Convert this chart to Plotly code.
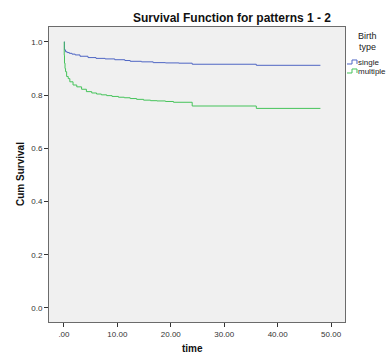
import plotly.graph_objects as go

# ---- data ----
single_t = [0, 0.1, 0.3, 0.6, 1.0, 1.5, 2.1, 3.0, 4.5, 6.0, 7.7, 9.5, 11.4, 12.4, 14.5, 16.7, 19.0, 21.5, 24.0, 36.0, 48.0]
single_s = [1.0, 0.970, 0.963, 0.960, 0.957, 0.954, 0.951, 0.946, 0.941, 0.938, 0.936, 0.933, 0.930, 0.927, 0.925, 0.922, 0.921, 0.920, 0.916, 0.912, 0.912]

multiple_t = [0, 0.05, 0.1, 0.2, 0.3, 0.5, 0.8, 1.1, 1.7, 2.4, 3.3, 4.2, 5.2, 6.1, 7.0, 8.0, 9.0, 10.2, 11.3, 12.4, 13.6, 14.9, 16.2, 17.4, 19.0, 20.5, 24.0, 36.0, 48.0]
multiple_s = [1.0, 0.95, 0.92, 0.90, 0.888, 0.87, 0.862, 0.85, 0.838, 0.831, 0.822, 0.813, 0.808, 0.804, 0.801, 0.798, 0.795, 0.792, 0.790, 0.787, 0.784, 0.781, 0.779, 0.778, 0.776, 0.773, 0.759, 0.750, 0.750]

x_tickvals = [0, 10, 20, 30, 40, 50]
x_ticktext = [".00", "10.00", "20.00", "30.00", "40.00", "50.00"]
y_tickvals = [0.0, 0.2, 0.4, 0.6, 0.8, 1.0]
y_ticktext = ["0.0", "0.2", "0.4", "0.6", "0.8", "1.0"]

series_names = ["single", "multiple"]
colors = ["#4F66C4", "#45C35A"]

W, H = 387, 353
L, R, T, B = 49, 345, 27, 322
def px(x):
    return (x - L) / (R - L)
def py(y):
    return (B - y) / (B - T)

FONT = "Liberation Sans, Arial, sans-serif"

fig = go.Figure()
fig.add_trace(go.Scatter(x=single_t, y=single_s, mode="lines", line_shape="hv",
                         line=dict(color=colors[0], width=1), name=series_names[0], showlegend=False))
fig.add_trace(go.Scatter(x=multiple_t, y=multiple_s, mode="lines", line_shape="hv",
                         line=dict(color=colors[1], width=1), name=series_names[1], showlegend=False))

fig.update_layout(
    width=W, height=H,
    margin=dict(l=L, r=W - R, t=T, b=H - B),
    paper_bgcolor="white",
    plot_bgcolor="#F0F0F0",
    font=dict(family=FONT, size=8, color="#333333"),
    xaxis=dict(range=[-2.8, 52.6], tickvals=x_tickvals, ticktext=x_ticktext,
               showgrid=False, zeroline=False, showline=True, mirror=True,
               linecolor="#6b6b6b", linewidth=1, ticks="outside", ticklen=4,
               tickcolor="#333333", tickfont=dict(size=8, color="#333333")),
    yaxis=dict(range=[-0.053, 1.056], tickvals=y_tickvals, ticktext=y_ticktext,
               showgrid=False, zeroline=False, showline=True, mirror=True,
               linecolor="#6b6b6b", linewidth=1, ticks="outside", ticklen=4,
               tickcolor="#333333", tickfont=dict(size=8, color="#333333")),
)

annotations = [
    dict(text="<b>Survival Function for patterns 1 - 2</b>", x=px(232), y=py(18),
         xref="paper", yref="paper", showarrow=False, xanchor="center", yanchor="middle",
         font=dict(size=12, color="#111111", family=FONT)),
    dict(text="<b>Cum Survival</b>", x=px(20), y=py(174), textangle=-90,
         xref="paper", yref="paper", showarrow=False, xanchor="center", yanchor="middle",
         font=dict(size=10, color="#111111", family=FONT)),
    dict(text="<b>time</b>", x=px(192), y=py(348),
         xref="paper", yref="paper", showarrow=False, xanchor="center", yanchor="middle",
         font=dict(size=10, color="#111111", family=FONT)),
    dict(text="Birth", x=px(367), y=py(36),
         xref="paper", yref="paper", showarrow=False, xanchor="center", yanchor="middle",
         font=dict(size=9, color="#222222", family=FONT)),
    dict(text="type", x=px(367), y=py(47),
         xref="paper", yref="paper", showarrow=False, xanchor="center", yanchor="middle",
         font=dict(size=9, color="#222222", family=FONT)),
]
shapes = []
for i, (name, col) in enumerate(zip(series_names, colors)):
    yc = 62 + 9 * i
    annotations.append(dict(text=name, x=px(356), y=py(yc), xref="paper", yref="paper",
                            showarrow=False, xanchor="left", yanchor="middle",
                            font=dict(size=8, color="#222222", family=FONT)))
    xs = [347, 352, 352, 357, 357]
    ys = [yc + 2, yc + 2, yc - 2, yc - 2, yc + 2]
    path = "M " + " L ".join(f"{px(a):.5f},{py(b):.5f}" for a, b in zip(xs, ys))
    shapes.append(dict(type="path", path=path, xref="paper", yref="paper",
                       line=dict(color=col, width=1)))

fig.update_layout(annotations=annotations, shapes=shapes)
fig.write_html("out.html")
